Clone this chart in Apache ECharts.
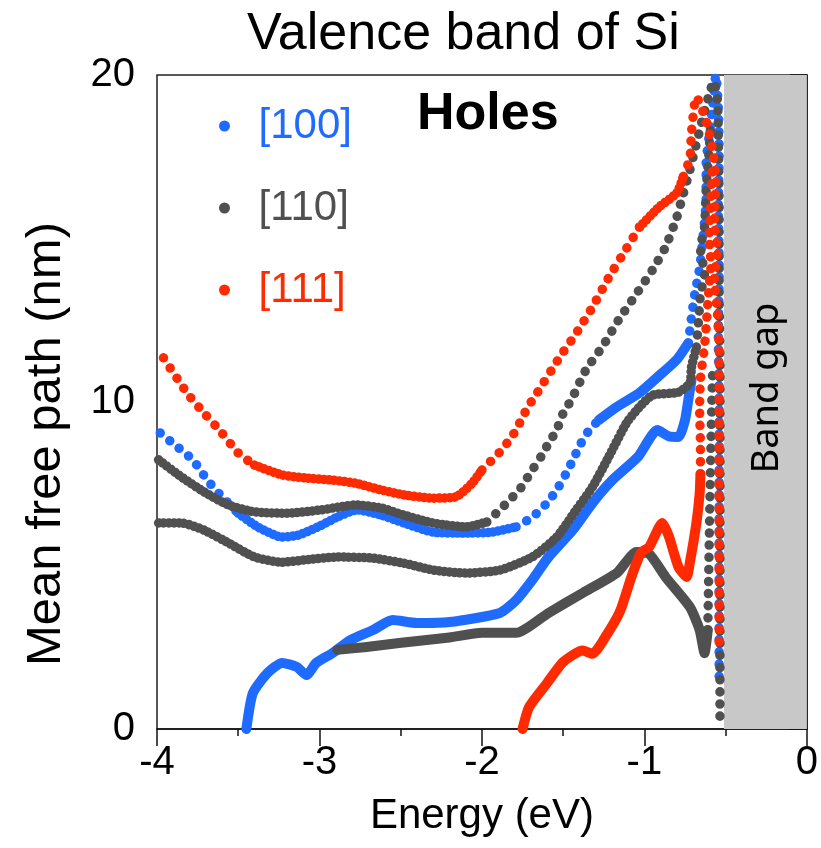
<!DOCTYPE html>
<html><head><meta charset="utf-8">
<script src="https://cdn.jsdelivr.net/npm/echarts/dist/echarts.min.js"></script>
<style>html,body{margin:0;padding:0;background:#fff}#c{width:821px;height:848px}</style>
</head><body><div id="c"></div>
<script>
// ---- axis / labels ----
const titleText = 'Valence band of Si';
const xName = 'Energy (eV)';
const yName = 'Mean free path (nm)';
const xRange = [-4, 0];
const yRange = [0, 20];
const bandGap = [-0.51, 0];
const legendNames = ['[100]', '[110]', '[111]'];

// ---- [100] (blue) ----
const blueUpperA = [[-3.98,9.05],[-3.89,8.69],[-3.78,8.23],[-3.69,7.61],[-3.60,7.10],[-3.50,6.60]];
const blueUpperB = [[-3.50,6.60],[-3.38,6.18],[-3.23,5.87],[-3.13,5.93],[-3.01,6.18],[-2.89,6.48],[-2.77,6.70],[-2.62,6.54],[-2.48,6.30],[-2.30,6.02],[-2.10,5.99],[-1.94,6.02],[-1.79,6.18]];
const blueUpperC = [[-1.79,6.18],[-1.69,6.48],[-1.60,6.91],[-1.54,7.31],[-1.48,7.83],[-1.44,8.23],[-1.39,8.74],[-1.34,9.14],[-1.28,9.45]];
const blueUpperD = [[-1.28,9.45],[-1.17,9.85],[-1.03,10.28],[-0.91,10.80],[-0.80,11.30],[-0.73,11.80]];
const blueUpperE = [[-0.73,11.80],[-0.71,12.6],[-0.69,13.3],[-0.66,14.1],[-0.64,15.0],[-0.62,16.2],[-0.62,17.3],[-0.60,18.2],[-0.58,19.1],[-0.56,20.0],[-0.545,19.0],[-0.54,17.5],[-0.545,16.0],[-0.54,14.0],[-0.545,12.0],[-0.54,10.0],[-0.54,8.0],[-0.54,5.4],[-0.54,2.8],[-0.54,1.4]];
const blueLower = [[-3.45,0],[-3.41,1.10],[-3.32,1.71],[-3.23,2.02],[-3.14,1.90],[-3.08,1.65],[-3.02,2.02],[-2.92,2.32],[-2.81,2.72],[-2.67,3.03],[-2.55,3.33],[-2.40,3.24],[-2.20,3.27],[-1.89,3.55],[-1.79,3.94],[-1.69,4.56],[-1.59,5.26],[-1.44,6.09],[-1.32,6.91],[-1.20,7.60],[-1.04,8.32],[-0.92,9.14],[-0.85,8.95],[-0.79,8.93],[-0.75,9.45],[-0.73,10.06],[-0.71,10.67]];

// ---- [110] (grey) ----
const greyUpperA = [[-3.99,8.23],[-3.85,7.71],[-3.71,7.25],[-3.56,6.85],[-3.40,6.64],[-3.20,6.60],[-2.99,6.70],[-2.78,6.85],[-2.62,6.76],[-2.48,6.54],[-2.30,6.30],[-2.10,6.18],[-1.97,6.33]];
const greyUpperB = [[-1.97,6.33],[-1.89,6.70],[-1.83,7.00],[-1.77,7.31],[-1.73,7.61],[-1.69,7.92],[-1.63,8.38],[-1.59,8.74],[-1.54,9.14],[-1.50,9.66],[-1.45,10.06],[-1.36,10.98],[-1.26,11.68],[-1.16,12.50],[-1.05,13.30],[-0.95,14.04],[-0.87,14.74],[-0.80,15.66],[-0.77,16.20],[-0.72,17.10],[-0.69,17.70],[-0.64,18.70],[-0.59,19.60],[-0.57,19.80],[-0.55,19.2],[-0.545,18.0],[-0.54,16.0],[-0.54,13.5],[-0.535,11.0],[-0.535,8.5],[-0.535,6.0],[-0.535,3.5],[-0.535,0.2]];
const greyMid = [[-3.99,6.30],[-3.85,6.30],[-3.71,6.08],[-3.56,5.69],[-3.40,5.26],[-3.23,5.10],[-3.09,5.17],[-2.89,5.26],[-2.68,5.23],[-2.48,5.07],[-2.30,4.86],[-2.10,4.77],[-1.89,4.86],[-1.69,5.26],[-1.54,5.87],[-1.42,6.70],[-1.32,7.40],[-1.22,8.32],[-1.11,9.36],[-1.03,9.85],[-0.95,10.21],[-0.79,10.30],[-0.72,10.58],[-0.71,11.07],[-0.68,11.68]];
const greyMidTop = [[-0.68,11.68],[-0.665,12.6],[-0.655,13.3],[-0.63,13.9],[-0.655,14.7],[-0.63,15.35],[-0.62,16.5],[-0.60,17.8],[-0.59,18.6]];
const greyLow = [[-2.89,2.42],[-2.71,2.51],[-2.51,2.63],[-2.20,2.80],[-2.00,2.94],[-1.79,2.94],[-1.59,3.55],[-1.38,4.16],[-1.17,4.77],[-1.05,5.41],[-0.97,5.35],[-0.87,4.65],[-0.72,3.73],[-0.66,3.03],[-0.63,2.32],[-0.61,3.03]];
const greyRise = [[-0.61,3.03],[-0.605,4.5],[-0.60,6.0],[-0.595,7.5],[-0.59,8.8],[-0.585,10.0],[-0.58,11.0]];

// ---- [111] (red) ----
const redUpperA = [[-3.96,11.35],[-3.81,10.24],[-3.71,9.66],[-3.60,9.05],[-3.50,8.44],[-3.40,8.07]];
const redUpperB = [[-3.40,8.07],[-3.23,7.77],[-3.09,7.68],[-2.92,7.61],[-2.78,7.52],[-2.62,7.31],[-2.48,7.16],[-2.30,7.06],[-2.16,7.10],[-2.06,7.52],[-2.00,7.92]];
const redUpperC = [[-2.00,7.92],[-1.89,8.47],[-1.84,8.78],[-1.79,9.14],[-1.75,9.54],[-1.71,9.90],[-1.66,10.28],[-1.52,11.38],[-1.42,12.10],[-1.32,12.90],[-1.22,13.80],[-1.11,14.70],[-1.03,15.35]];
const redUpperD = [[-1.03,15.35],[-0.91,15.96],[-0.80,16.40],[-0.76,16.90]];
const redUpperE = [[-0.76,16.90],[-0.72,17.45],[-0.71,18.26],[-0.68,19.33],[-0.62,18.6],[-0.58,17.7],[-0.56,16.8],[-0.57,15.5],[-0.55,14.6],[-0.57,13.8],[-0.55,12.7],[-0.54,11.5],[-0.54,9.7],[-0.54,7.7],[-0.54,6.1],[-0.54,4.2],[-0.54,2.4]];
const redLower = [[-1.75,0],[-1.71,0.67],[-1.60,1.40],[-1.50,2.05],[-1.38,2.40],[-1.32,2.30],[-1.23,2.90],[-1.15,3.60],[-1.08,4.65],[-1.02,5.40],[-0.97,5.57],[-0.89,6.30],[-0.85,5.90],[-0.79,4.95],[-0.74,4.65],[-0.72,5.10],[-0.68,6.30],[-0.66,7.20],[-0.655,7.8]];
const redRise = [[-0.655,7.8],[-0.655,8.6],[-0.66,9.8],[-0.655,10.7],[-0.63,11.7],[-0.62,12.3],[-0.61,13.0],[-0.60,13.6],[-0.59,14.2],[-0.60,15.0],[-0.59,16.3],[-0.58,17.2]];

// ---- styles ----
const BLUE = '#1f6bff', GREY = '#505050', RED = '#ff2a00';
const FONT = '"Liberation Sans", Arial, sans-serif';
const STYLES = {
  thick:  {width: 10, type: 'solid', cap: 'round', join: 'round'},
  dense:  {width: 9.5, type: [0.1, 5], cap: 'round', join: 'round'},
  dotted: {width: 9.5, type: [0.1, 12], cap: 'round', join: 'round'}
};
function seg(name, color, data, style, z) {
  return {
    type: 'line', name: name, data: data, symbol: 'none', showSymbol: false,
    smooth: 0.2, silent: true, z: z, animation: false,
    itemStyle: {color: color},
    lineStyle: Object.assign({color: color}, STYLES[style])
  };
}

const series = [
  seg(legendNames[0], BLUE, blueUpperA, 'dotted', 2),
  seg(legendNames[0], BLUE, blueUpperB, 'dense', 2),
  seg(legendNames[0], BLUE, blueUpperC, 'dotted', 2),
  seg(legendNames[0], BLUE, blueUpperD, 'thick', 2),
  seg(legendNames[0], BLUE, blueUpperE, 'dotted', 2),
  seg(legendNames[0], BLUE, blueLower, 'thick', 2),
  seg(legendNames[1], GREY, greyUpperA, 'dense', 3),
  seg(legendNames[1], GREY, greyUpperB, 'dotted', 3),
  seg(legendNames[1], GREY, greyMid, 'dense', 3),
  seg(legendNames[1], GREY, greyMidTop, 'dotted', 3),
  seg(legendNames[1], GREY, greyLow, 'thick', 3),
  seg(legendNames[1], GREY, greyRise, 'dotted', 3),
  seg(legendNames[2], RED, redUpperA, 'dotted', 4),
  seg(legendNames[2], RED, redUpperB, 'dense', 4),
  seg(legendNames[2], RED, redUpperC, 'dotted', 4),
  seg(legendNames[2], RED, redUpperD, 'dense', 4),
  seg(legendNames[2], RED, redUpperE, 'dotted', 4),
  seg(legendNames[2], RED, redLower, 'thick', 4),
  seg(legendNames[2], RED, redRise, 'dotted', 4)
];
// band gap shading
series.push({
  type: 'line', name: 'bandgap', data: [], silent: true, z: 1,
  markArea: {
    silent: true,
    itemStyle: {color: '#c8c8c8'},
    label: {show: true, position: 'inside', rotate: 90, offset: [14, 2],
      color: '#000', fontSize: 38, fontFamily: '"Noto Sans", "Open Sans", sans-serif',
      formatter: 'Band gap'},
    data: [[{xAxis: bandGap[0]}, {xAxis: bandGap[1]}]]
  }
});

const chart = echarts.init(document.getElementById('c'), null, {renderer: 'canvas'});
chart.setOption({
  animation: false,
  backgroundColor: '#ffffff',
  title: {
    text: titleText, left: 247, top: 9, padding: 0,
    textStyle: {fontSize: 52, fontWeight: 'normal', color: '#000', fontFamily: FONT}
  },
  legend: {
    orient: 'vertical', left: 214, top: 100, icon: 'circle',
    itemWidth: 58, itemHeight: 11, itemGap: 40, selectedMode: false,
    textStyle: {fontSize: 42, lineHeight: 40, fontFamily: FONT},
    data: [
      {name: legendNames[0], textStyle: {color: BLUE}},
      {name: legendNames[1], textStyle: {color: GREY}},
      {name: legendNames[2], textStyle: {color: RED}}
    ]
  },
  grid: {left: 157, right: 11, top: 75, bottom: 119, show: true,
    borderColor: '#222', borderWidth: 1.5, backgroundColor: '#fff'},
  xAxis: {
    type: 'value', min: xRange[0], max: xRange[1], interval: 1,
    name: xName, nameLocation: 'middle', nameGap: 66,
    nameTextStyle: {fontSize: 42, color: '#000', fontFamily: FONT},
    axisLine: {show: true, lineStyle: {color: '#111', width: 1.5}},
    axisTick: {show: true, inside: false, length: 17, lineStyle: {color: '#111', width: 1.5}},
    minorTick: {show: true, splitNumber: 2, length: 7, lineStyle: {color: '#111', width: 1.5}},
    splitLine: {show: false},
    axisLabel: {fontSize: 40, color: '#000', margin: 14, fontFamily: FONT}
  },
  yAxis: {
    type: 'value', min: yRange[0], max: yRange[1], interval: 10,
    name: yName, nameLocation: 'middle', nameGap: 86,
    nameTextStyle: {fontSize: 49, color: '#000', fontFamily: FONT, padding: [0, 84, 0, 0]},
    axisLine: {show: true, lineStyle: {color: '#111', width: 1.5}},
    axisTick: {show: true, inside: false, length: 17, lineStyle: {color: '#111', width: 1.5}},
    minorTick: {show: true, splitNumber: 2, length: 7, lineStyle: {color: '#111', width: 1.5}},
    splitLine: {show: false},
    axisLabel: {fontSize: 40, color: '#000', margin: 22, fontFamily: FONT}
  },
  graphic: [{
    type: 'text', left: 417, top: 89, silent: true,
    style: {text: 'Holes', font: 'bold 52px "Liberation Sans", Arial, sans-serif', fill: '#000'}
  }],
  series: series
});
</script></body></html>
